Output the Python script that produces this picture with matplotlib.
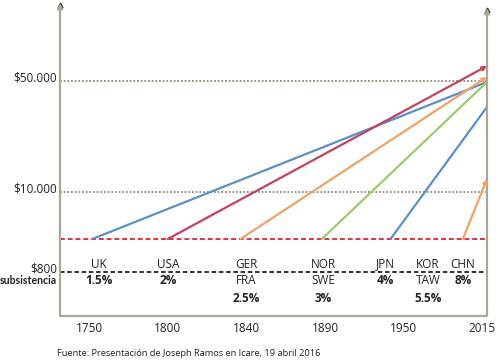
import numpy as np
import matplotlib
matplotlib.use("Agg")
import matplotlib.pyplot as plt
from matplotlib.transforms import blended_transform_factory

plt.rcParams['font.family'] = ['Open Sans', 'DejaVu Sans']

# ---- data ----
tick_years = [1750, 1800, 1840, 1890, 1950, 2015]

# income levels (schematic chart height units)
level_labels = ["$800", "$10.000", "$50.000"]
level_heights = [44, 124, 235]
takeoff_height = 77          # red dashed "take-off" line

countries = ["UK", "USA", "GER", "NOR", "JPN", "CHN"]
start_years = [1752, 1800, 1837, 1888, 1940, 1999]
end_heights = [234, 250, 239, 234, 209, 137]
line_colors = ["#5b8fc9", "#c2425f", "#f2a263", "#9ccb6b", "#5b8fc9", "#f2a263"]
arrow_head = [False, True, True, False, False, True]

group_names = ["UK", "USA", "GER", "NOR", "JPN", "KOR", "CHN"]
group_second = ["", "", "FRA", "SWE", "", "TAW", ""]
group_rates = ["1.5%", "2%", "2.5%", "3%", "4%", "5.5%", "8%"]
group_label_years = [1756, 1800, 1840, 1889, 1936, 1970, 1999]

source_text = "Fuente: Presentación de Joseph Ramos en Icare, 19 abril 2016"


def xpos(year):
    return np.interp(year, tick_years, np.arange(len(tick_years)))


W, H = 502, 364
fig = plt.figure(figsize=(W / 100, H / 100), dpi=100)
ax = fig.add_axes([60 / W, (H - 316) / H, (487 - 60) / W, (316 - 5) / H])
ax.set_xlim(-0.37, 5.06)
ax.set_ylim(0, 311)
for s in ax.spines.values():
    s.set_visible(False)
ax.set_yticks([])
ax.set_xticks(np.arange(len(tick_years)))
ax.set_xticklabels([str(y) for y in tick_years], fontsize=8.5, color="#222222")
ax.tick_params(axis='x', length=0, pad=4)

axis_col = "#a9a892"
xl = ax.get_xlim()
# axes lines
ax.plot([xl[0], xl[1]], [0, 0], color=axis_col, lw=1.6, clip_on=False, solid_capstyle='butt')
for xx, top in [(xl[0], 313), (xl[1], 308)]:
    ax.annotate("", xy=(xx, top), xytext=(xx, 0),
                arrowprops=dict(arrowstyle="-|>", color=axis_col, lw=1.6,
                                mutation_scale=7, shrinkA=0, shrinkB=0),
                annotation_clip=False)
ax.plot([xl[0]], [311], marker="^", color="#333333", ms=3.5, clip_on=False)
ax.plot([xl[1]], [306], marker="^", color="#333333", ms=3.5, clip_on=False)

# level reference lines
ax.plot(xl, [level_heights[2]] * 2, color="#7a7a60", lw=1.1, ls=(0, (1.2, 1.2)))
ax.plot(xl, [level_heights[1]] * 2, color="#7a7a60", lw=1.1, ls=(0, (1.2, 1.2)))
ax.plot(xl, [level_heights[0]] * 2, color="#222222", lw=1.3, ls=(0, (2.5, 1.5)))
ax.plot(xl, [takeoff_height] * 2, color="#e0303e", lw=1.4, ls=(0, (2.5, 1.5)))

# level labels
trans = blended_transform_factory(fig.transFigure, ax.transData)
for lab, h in zip(level_labels, level_heights):
    ax.text(57 / W, h + 3, lab, transform=trans, ha="right", va="center",
            fontsize=8.5, color="#222222")
ax.text(57 / W, level_heights[0] - 9, "subsistencia", transform=trans,
        ha="right", va="center", fontsize=7.6, fontweight="bold", color="#222222",
        family=["Lato", "DejaVu Sans"])

# country growth lines
for c, sy, eh, col, ah in zip(countries, start_years, end_heights, line_colors, arrow_head):
    x0 = xpos(sy)
    if ah:
        ax.annotate("", xy=(xl[1], eh), xytext=(x0, takeoff_height),
                    arrowprops=dict(arrowstyle="-|>", color=col, lw=1.6,
                                    mutation_scale=6, shrinkA=0, shrinkB=0),
                    annotation_clip=False)
    else:
        ax.plot([x0, xl[1]], [takeoff_height, eh], color=col, lw=1.6,
                solid_capstyle='butt')

# country labels
row1, row2, row3 = 52, 35, 18
for name, sec, rate, ly in zip(group_names, group_second, group_rates, group_label_years):
    x = xpos(ly)
    ax.text(x, row1, name, ha="center", va="center", fontsize=8.5, color="#222222")
    if sec:
        ax.text(x, row2, sec, ha="center", va="center", fontsize=8.5, color="#222222")
        ax.text(x, row3, rate, ha="center", va="center", fontsize=8.5,
                fontweight="bold", color="#222222")
    else:
        ax.text(x, row2, rate, ha="center", va="center", fontsize=8.5,
                fontweight="bold", color="#222222")

fig.text(57 / W, 1 - 354 / H, source_text, ha="left", va="center",
         fontsize=6.7, color="#222222")

fig.savefig("out.png", dpi=100, facecolor="white")
